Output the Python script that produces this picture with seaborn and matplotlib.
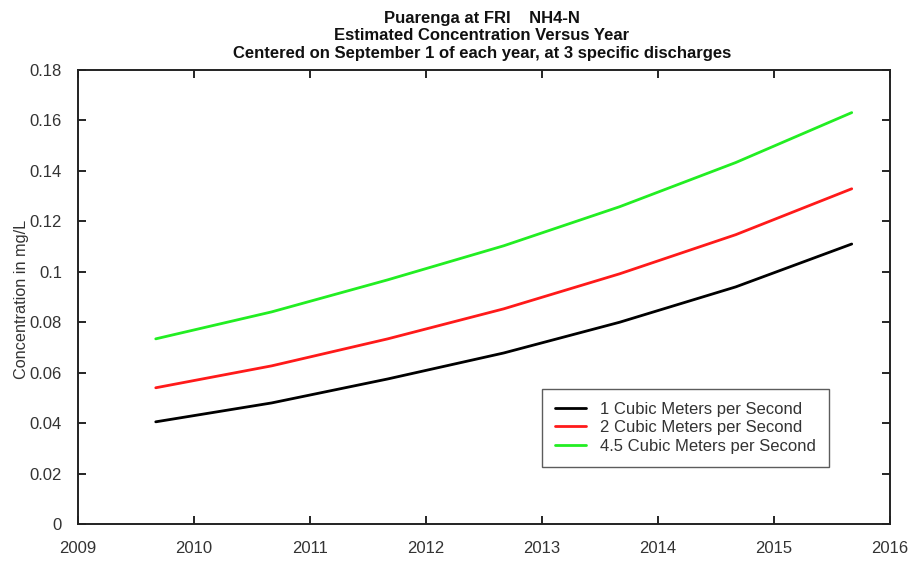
import matplotlib
matplotlib.use("Agg")
import matplotlib.pyplot as plt
import pandas as pd
import seaborn as sns

# Estimated NH4-N concentration, centred on September 1 of each year
years = [2009.67, 2010.67, 2011.67, 2012.67, 2013.67, 2014.67, 2015.67]
q1_conc = [0.0405, 0.0480, 0.0575, 0.0678, 0.0800, 0.0940, 0.1110]
q2_conc = [0.0540, 0.0627, 0.0734, 0.0853, 0.0992, 0.1147, 0.1329]
q45_conc = [0.0734, 0.0841, 0.0968, 0.1103, 0.1258, 0.1433, 0.1631]
series_names = ["1 Cubic Meters per Second",
                "2 Cubic Meters per Second",
                "4.5 Cubic Meters per Second"]
x_ticks = [2009, 2010, 2011, 2012, 2013, 2014, 2015, 2016]
y_ticks = [0, 0.02, 0.04, 0.06, 0.08, 0.1, 0.12, 0.14, 0.16, 0.18]
y_tick_labels = ["0", "0.02", "0.04", "0.06", "0.08", "0.1", "0.12", "0.14", "0.16", "0.18"]

frames = []
for name, vals in zip(series_names, [q1_conc, q2_conc, q45_conc]):
    frames.append(pd.DataFrame({"year": years, "conc": vals, "discharge": name}))
df = pd.concat(frames, ignore_index=True)

sns.set_style("ticks")
plt.rcParams["font.family"] = ["Liberation Sans", "DejaVu Sans"]

fig = plt.figure(figsize=(9.18, 5.63), dpi=100)
ax = fig.add_axes([0.085, 0.0693, 0.8845, 0.8064])

palette = {series_names[0]: "#000000", series_names[1]: "#ff1a1a", series_names[2]: "#22ee22"}
sns.lineplot(data=df, x="year", y="conc", hue="discharge", palette=palette,
             linewidth=2, ax=ax, legend=True)

ax.set_xlim(2009, 2016)
ax.set_ylim(0, 0.18)
ax.set_xticks(x_ticks)
ax.set_xticklabels([str(t) for t in x_ticks])
ax.set_yticks(y_ticks)
ax.set_yticklabels(y_tick_labels)
ax.tick_params(direction="in", length=6, width=1.2, top=True, right=True,
               labelsize=12, colors="#000000", labelcolor="#333333")
ax.tick_params(axis="x", pad=12.5)
ax.tick_params(axis="y", pad=11.5)
for sp in ax.spines.values():
    sp.set_linewidth(1.4)
    sp.set_color("#222222")

ax.set_xlabel("")
ax.set_ylabel("Concentration in mg/L", fontsize=11.7, color="#333333")
ax.yaxis.set_label_coords(-0.0605, 0.495)

title_lines = ["Puarenga at FRI    NH4-N",
               "Estimated Concentration Versus Year",
               "Centered on September 1 of each year, at 3 specific discharges"]
for line, yy in zip(title_lines, [0.9680, 0.9365, 0.9050]):
    fig.text(0.525, yy, line, ha="center", va="center",
             fontsize=12, fontweight="bold", color="#111111")

leg = ax.legend(title=None, loc="lower left", bbox_to_anchor=(0.571, 0.1256),
                fontsize=12, frameon=True, fancybox=False, handlelength=1.85,
                borderpad=0.8, labelspacing=0.2, handletextpad=0.85, borderaxespad=0)
leg.get_frame().set_edgecolor("#333333")
leg.get_frame().set_linewidth(1.0)
for t in leg.get_texts():
    t.set_color("#333333")

fig.savefig("out.png", dpi=100)
